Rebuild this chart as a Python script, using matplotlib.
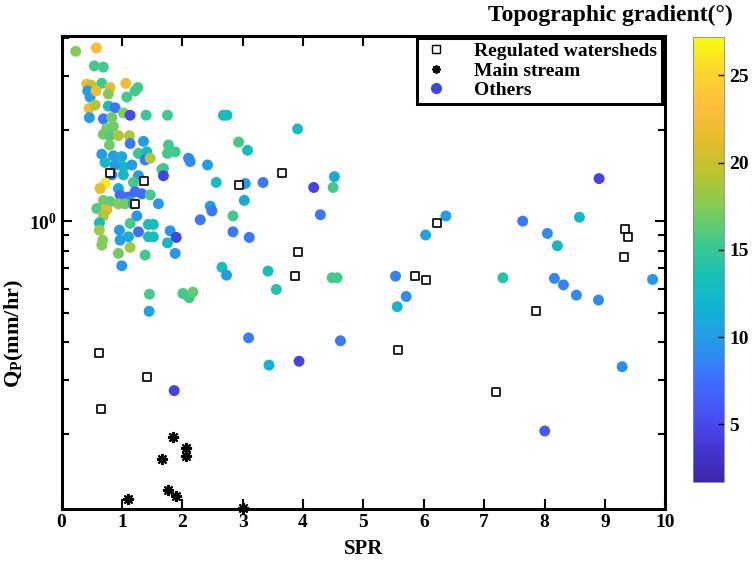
import matplotlib
matplotlib.use('Agg')
import matplotlib.pyplot as plt
import numpy as np
from matplotlib.colors import LinearSegmentedColormap
from matplotlib.lines import Line2D
from matplotlib.ticker import LogLocator, NullFormatter

plt.rcParams['font.family'] = 'Liberation Serif'
plt.rcParams['font.weight'] = 'bold'
plt.rcParams['mathtext.fontset'] = 'custom'
plt.rcParams['mathtext.rm'] = 'Liberation Serif:bold'
plt.rcParams['mathtext.bf'] = 'Liberation Serif:bold'
plt.rcParams['mathtext.it'] = 'Liberation Serif:bold:italic'

# parula-like colormap (MATLAB default)
parula_pts = [
    (0.2422, 0.1504, 0.6603), (0.2706, 0.2147, 0.8364), (0.2810, 0.3228, 0.9579),
    (0.2440, 0.4358, 0.9988), (0.1540, 0.5902, 0.9218), (0.0689, 0.6948, 0.8394),
    (0.0964, 0.7500, 0.7120), (0.2470, 0.7918, 0.5567), (0.5044, 0.7993, 0.3480),
    (0.7242, 0.7698, 0.1910), (0.9035, 0.7330, 0.1774), (0.9956, 0.7434, 0.2371),
    (0.9786, 0.8386, 0.1766), (0.9769, 0.9839, 0.0805),
]
parula = LinearSegmentedColormap.from_list('parula', parula_pts)

# "Others": SPR, Qp (mm/hr), topographic gradient (deg)
spr_oth = [0.235, 0.577, 0.544, 0.693, 0.418, 0.489, 0.667, 0.804, 1.065, 1.264,
           1.219, 1.081, 0.434, 0.473, 0.572, 0.776, 0.456, 0.556, 0.776, 0.887,
           0.461, 0.693, 0.833, 1.025, 1.136, 1.401, 1.755, 0.75, 0.859, 0.693,
           0.80, 0.942, 1.124, 1.357, 1.136, 1.771, 0.793, 1.882, 1.755, 0.667,
           0.859, 0.998, 1.274, 1.413, 1.385, 1.468, 2.103, 2.131, 2.418, 1.688,
           1.025, 1.164, 0.721, 0.887, 1.662, 1.688, 0.833, 1.025, 1.274, 0.721,
           0.638, 0.942, 1.191, 0.970, 1.219, 1.330, 1.468, 1.108, 1.136, 0.693,
           0.804, 0.942, 1.053, 1.191, 1.605, 0.584, 0.75, 0.693, 0.627, 0.627,
           0.959, 1.247, 1.136, 1.439, 1.522, 1.274, 1.439, 1.522, 1.108, 0.970,
           0.683, 0.667, 1.799, 1.899, 1.755, 1.136, 0.942, 1.385, 1.882, 0.998,
           2.68, 2.74, 3.910, 2.932, 3.081, 2.562, 3.043, 3.337, 4.176, 4.519,
           4.498, 3.027, 2.463, 2.491, 2.297, 2.839, 2.839, 3.109, 4.287, 2.657,
           2.733, 3.420, 4.481, 4.564, 5.531, 1.456, 1.451, 2.010, 2.114, 2.176,
           3.557, 5.708, 5.559, 3.098, 4.619, 3.436, 3.934, 1.866,
           8.902, 6.365, 6.03, 7.637, 8.577, 8.046, 8.212, 7.310, 8.162, 8.312,
           8.527, 8.892, 9.788, 9.284, 8.002]
qp_oth = [3.62, 3.71, 3.24, 3.21, 2.82, 2.80, 2.84, 2.75, 2.84, 2.75,
          2.68, 2.56, 2.68, 2.56, 2.68, 2.62, 2.35, 2.41, 2.39, 2.36,
          2.19, 2.17, 2.19, 2.27, 2.23, 2.23, 2.23, 2.02, 2.05, 1.93,
          1.91, 1.91, 1.91, 1.83, 1.80, 1.78, 1.78, 1.69, 1.67, 1.66,
          1.64, 1.63, 1.67, 1.69, 1.59, 1.61, 1.61, 1.57, 1.53, 1.49,
          1.51, 1.53, 1.56, 1.53, 1.48, 1.41, 1.42, 1.42, 1.41, 1.33,
          1.28, 1.28, 1.34, 1.22, 1.25, 1.23, 1.22, 1.20, 1.16, 1.17,
          1.16, 1.14, 1.14, 1.14, 1.14, 1.10, 1.09, 1.04, 0.987, 0.934,
          0.934, 1.04, 0.983, 0.975, 0.975, 0.922, 0.888, 0.888, 0.888, 0.866,
          0.866, 0.834, 0.929, 0.884, 0.848, 0.82, 0.783, 0.773, 0.783, 0.713,
          2.23, 2.23, 2.01, 1.82, 1.71, 1.34, 1.33, 1.34, 1.29, 1.40,
          1.29, 1.17, 1.12, 1.08, 1.01, 1.04, 0.922, 0.884, 1.05, 0.705,
          0.664, 0.685, 0.651, 0.651, 0.659, 0.575, 0.505, 0.578, 0.56, 0.584,
          0.596, 0.565, 0.523, 0.413, 0.404, 0.336, 0.346, 0.277,
          1.38, 1.04, 0.90, 1.00, 1.03, 0.911, 0.83, 0.651, 0.648, 0.617,
          0.571, 0.55, 0.643, 0.332, 0.204]
grad_oth = [17.5, 22.5, 15.5, 15.5, 21.5, 20, 15.5, 21.5, 22, 15.5,
            15.5, 15.5, 10, 10, 22.5, 17.5, 22, 19, 13, 8,
            10, 8, 17, 17.5, 4.8, 15, 15.5, 17, 17, 17,
            16, 19, 19, 10, 8, 15.5, 17, 15.5, 15.5, 10,
            10, 11, 15, 12.5, 8, 19, 9, 9, 10, 15,
            12.5, 10, 12.5, 10, 15.5, 4.5, 8, 12.5, 10, 26.5,
            21.5, 11, 15.5, 7.5, 7.5, 7.5, 15.5, 7, 10, 17,
            16, 17.5, 17, 10, 9.5, 16, 21, 19, 13, 18.5,
            10, 9.5, 15.5, 13, 13, 7.5, 13, 13, 11, 10,
            17.5, 17.5, 9.5, 4.5, 12.5, 18.5, 17, 15.5, 9.5, 9.5,
            13, 13, 13, 15.5, 13, 13, 10, 8, 4.5, 11,
            15.5, 11, 10, 8, 8, 15.5, 8, 8, 8, 13,
            10, 13, 15.5, 15.5, 8.5, 15.5, 10.5, 15.5, 15.5, 16.5,
            14, 9, 12, 8.5, 8, 11.5, 4.5, 4.5,
            4.5, 10, 10.5, 8, 12.5, 9, 12.5, 14, 9, 8.5,
            9, 9, 9.5, 9, 6]

# Regulated watersheds
spr_reg = [0.804, 1.373, 1.219, 2.932, 3.652, 3.917, 3.864, 5.851, 6.028, 6.211,
           7.857, 9.328, 9.383, 9.307, 7.201, 0.627, 1.413, 0.660, 5.580]
qp_reg = [1.44, 1.35, 1.14, 1.31, 1.44, 0.789, 0.66, 0.659, 0.64, 0.987,
          0.508, 0.939, 0.888, 0.763, 0.274, 0.367, 0.308, 0.241, 0.376]

# Main stream
spr_main = [1.849, 2.065, 2.065, 1.672, 1.771, 1.904, 1.108, 3.005]
qp_main = [0.195, 0.179, 0.169, 0.165, 0.130, 0.1246, 0.1218, 0.1135]

fig = plt.figure(figsize=(7.52, 5.67), dpi=100)
ax = fig.add_axes([0.0818, 0.1023, 0.803, 0.834])
cax = fig.add_axes([0.921, 0.150, 0.042, 0.785])

sc = ax.scatter(spr_oth, qp_oth, c=grad_oth, cmap=parula, vmin=1.7, vmax=27.2,
                s=62, edgecolors='none', zorder=2)
ax.scatter(spr_reg, qp_reg, marker='s', s=36, facecolors='white',
           edgecolors='black', linewidths=1.2, zorder=3)
ax.plot(spr_main, qp_main, linestyle='none', marker=(8, 2, 0), markersize=8,
        markeredgewidth=1.5, color='black', zorder=3, clip_on=False)

ax.set_yscale('log')
ax.set_xlim(0, 10)
ax.set_ylim(0.113, 4.06)
ax.set_xticks(range(0, 11))
ax.yaxis.set_major_locator(LogLocator(base=10))
ax.yaxis.set_minor_locator(LogLocator(base=10, subs=np.arange(2, 10)))
ax.yaxis.set_minor_formatter(NullFormatter())
ax.tick_params(which='both', direction='in', top=True, right=True,
               labelsize=14, width=1.5)
ax.tick_params(which='major', length=7)
ax.tick_params(which='minor', length=5)
for sp in ax.spines.values():
    sp.set_linewidth(2.2)

ax.set_xlabel('SPR', fontsize=15, fontweight='bold', labelpad=6)
ax.set_ylabel('Q$_\\mathregular{P}$(mm/hr)', fontsize=16, fontweight='bold')
ax.yaxis.set_label_coords(-0.058, 0.37)

handles = [
    Line2D([], [], linestyle='none', marker='s', markersize=6, markerfacecolor='white',
           markeredgecolor='black', markeredgewidth=1.0),
    Line2D([], [], linestyle='none', marker=(8, 2, 0), markersize=6,
           markeredgewidth=1.3, color='black'),
    Line2D([], [], linestyle='none', marker='o', markersize=7, color='#3f45e0'),
]
leg = ax.legend(handles, ['Regulated watersheds', 'Main stream', 'Others'],
                loc='upper right', bbox_to_anchor=(0.995, 0.997), fancybox=False,
                framealpha=1, edgecolor='black', fontsize=14, handlelength=1.4,
                handletextpad=1.3, borderpad=0.25, labelspacing=0.1,
                borderaxespad=0.0)
leg.get_frame().set_linewidth(2.2)
for t in leg.get_texts():
    t.set_fontweight('bold')

cb = fig.colorbar(sc, cax=cax, ticks=[5, 10, 15, 20, 25])
cb.outline.set_linewidth(0.6)
cb.outline.set_edgecolor('#888888')
cax.tick_params(direction='in', labelsize=14, length=4, width=1)
fig.text(0.812, 0.973, 'Topographic gradient(°)', ha='center', va='center',
         fontsize=17, fontweight='bold')

fig.savefig('out.png', dpi=100)
